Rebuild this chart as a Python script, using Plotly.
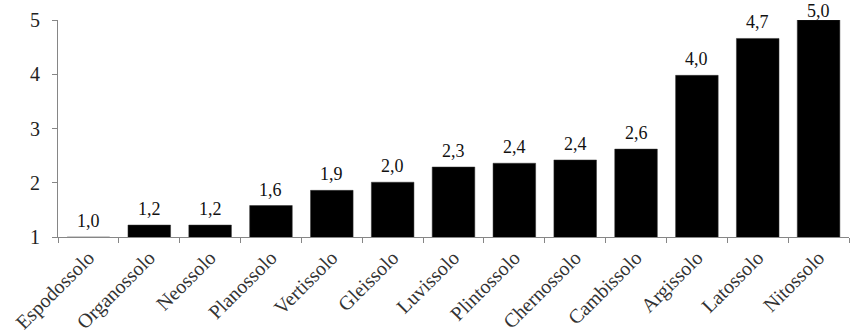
import plotly.graph_objects as go

categories = ["Espodossolo", "Organossolo", "Neossolo", "Planossolo", "Vertissolo",
              "Gleissolo", "Luvissolo", "Plintossolo", "Chernossolo", "Cambissolo",
              "Argissolo", "Latossolo", "Nitossolo"]
values = [1.0, 1.22, 1.22, 1.58, 1.86, 2.01, 2.29, 2.36, 2.42, 2.62, 3.98, 4.66, 5.0]
labels = ["1,0", "1,2", "1,2", "1,6", "1,9", "2,0", "2,3", "2,4", "2,4", "2,6", "4,0", "4,7", "5,0"]
y_ticks = [1, 2, 3, 4, 5]

font_family = "Times New Roman"

fig = go.Figure(go.Bar(
    x=categories, y=values,
    marker=dict(color="black", line=dict(color="#333333", width=0.5)),
))

# value labels above bars (the one at the axis top is nudged down to stay in view)
for cat, val, lab in zip(categories, values, labels):
    fig.add_annotation(
        x=cat, y=val, xref="x", yref="y", text=lab, showarrow=False,
        yanchor="bottom", yshift=(-3 if val >= max(y_ticks) else 4),
        font=dict(family=font_family, size=18, color="#111111"),
    )

fig.update_layout(
    width=851, height=336,
    margin=dict(l=58, r=2, t=20, b=99),
    plot_bgcolor="white", paper_bgcolor="white",
    bargap=0.3, showlegend=False,
    font=dict(family=font_family, size=19, color="#222222"),
)
fig.update_xaxes(
    showline=True, linecolor="#868686", linewidth=1,
    ticks="outside", tickson="boundaries", ticklen=5, tickcolor="#868686",
    tickangle=-45, tickfont=dict(family=font_family, size=20, color="#333333"),
    showgrid=False, automargin=False,
)
fig.update_yaxes(
    range=[1, 5], tickvals=y_ticks, ticktext=[str(v) for v in y_ticks],
    showline=True, linecolor="#868686", linewidth=1,
    ticks="outside", ticklen=5, tickcolor="#868686", ticklabelstandoff=8,
    tickfont=dict(family=font_family, size=20, color="#222222"),
    showgrid=False, zeroline=False, automargin=False,
)

fig.write_html("out.html")
